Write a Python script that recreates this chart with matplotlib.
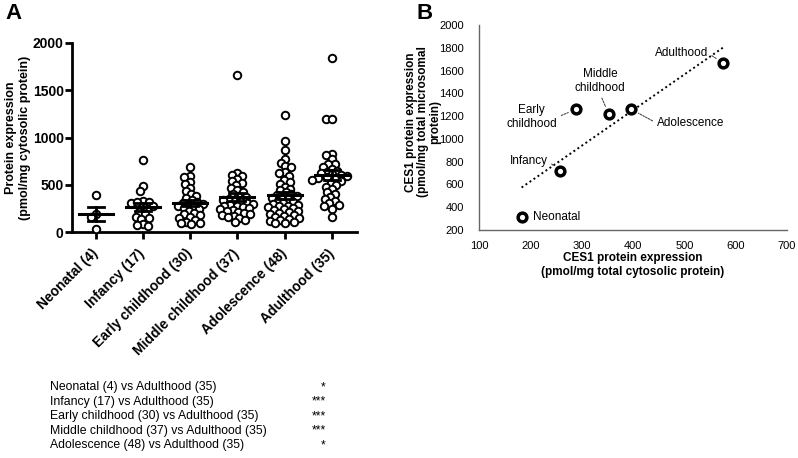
import numpy as np
import matplotlib
matplotlib.use("Agg")
import matplotlib.pyplot as plt

plt.rcParams['font.family'] = ['Liberation Sans', 'DejaVu Sans']

# %% Data - panel A
groups = ["Neonatal (4)", "Infancy (17)", "Early childhood (30)",
          "Middle childhood (37)", "Adolescence (48)", "Adulthood (35)"]

neonatal = [390, 190, 160, 30]
infancy = [766, 489, 436, 330, 320, 310, 320, 280, 260, 210, 190, 160,
           150, 140, 80, 70, 60]
early = [690, 590, 580, 530, 510, 470, 430, 400, 380, 360, 340, 320, 310,
         300, 290, 280, 260, 250, 240, 220, 200, 190, 180, 160, 150, 130,
         110, 100, 90, 80]
middle = [1660, 620, 600, 590, 560, 540, 520, 500, 470, 440, 420, 400, 380,
          370, 350, 340, 330, 320, 310, 300, 290, 280, 270, 260, 250, 240,
          230, 220, 210, 200, 190, 180, 170, 160, 150, 130, 110]
adolescence = [1234, 968, 872, 777, 731, 695, 684, 631, 624, 588,
               550, 530, 510, 480, 460, 440, 420, 400, 390, 380,
               370, 360, 350, 330, 320, 310, 300, 290, 280, 270,
               260, 250, 240, 230, 220, 210, 200, 190, 180, 170,
               160, 150, 140, 130, 120, 110, 100, 90]
adulthood = [1840, 1200, 1200, 830, 810, 770, 720, 720, 690, 670,
             650, 640, 620, 610, 600, 590, 580, 570, 560, 550,
             540, 520, 500, 480, 450, 420, 400, 370, 350, 330,
             310, 290, 280, 240, 160]
values = [neonatal, infancy, early, middle, adolescence, adulthood]

comparisons = ["Neonatal (4) vs Adulthood (35)",
               "Infancy (17) vs Adulthood (35)",
               "Early childhood (30) vs Adulthood (35)",
               "Middle childhood (37) vs Adulthood (35)",
               "Adolescence (48) vs Adulthood (35)"]
stars = ["*", "***", "***", "***", "*"]

# %% Data - panel B
b_names = ["Neonatal", "Infancy", "Early\nchildhood", "Middle\nchildhood",
           "Adolescence", "Adulthood"]
cyto = [183, 257, 289, 353, 396, 576]
micro = [311, 720, 1259, 1215, 1261, 1665]
# label positions (data units) / alignment
lab_xy = [(205, 314), (234, 808), (203, 1191), (336, 1507), (446, 1139), (546, 1753)]
lab_ha = ["left", "right", "center", "center", "left", "right"]
lab_rel = [None, (1, 0.5), (1, 0.5), (0.5, 0), (0, 0.5), (1, 0.5)]

# %% Figure
W, H = 798, 458
fig = plt.figure(figsize=(W/100, H/100), dpi=100)

def rect(l, t, r, b):
    return [l/W, (H-b)/H, (r-l)/W, (b-t)/H]

# ---------- Panel A
axA = fig.add_axes(rect(72, 43, 357, 232))
ypx = 189/2000
xpx = 47.2

def swarm(vals, d=5.6):
    placed = []
    offs = np.zeros(len(vals))
    cands = sorted(np.arange(-40, 40.5, 0.5), key=abs)
    for i in np.argsort(vals)[::-1]:
        y = vals[i]*ypx
        for c in cands:
            if all((c-px)**2 + (y-py)**2 >= d*d for px, py in placed):
                break
        placed.append((c, y))
        offs[i] = c/xpx
    return offs

for k, v in enumerate(values):
    v = np.array(v, dtype=float)
    xs = k + 1 + swarm(v)
    axA.plot(xs, v, 'o', ms=5.4, mfc='white', mec='black', mew=1.4, zorder=3,
             clip_on=False)
    m = v.mean()
    sem = v.std(ddof=1)/np.sqrt(len(v))
    axA.plot([k+1-0.36, k+1+0.36], [m, m], color='black', lw=2.2, zorder=4)
    axA.plot([k+1, k+1], [m-sem, m+sem], color='black', lw=2, zorder=4)
    for e in (m-sem, m+sem):
        axA.plot([k+1-0.17, k+1+0.17], [e, e], color='black', lw=2, zorder=4)

axA.set_xlim(0.5, 6.53)
axA.set_ylim(0, 2000)
axA.set_yticks([0, 500, 1000, 1500, 2000])
axA.set_xticks(range(1, 7))
axA.set_xticklabels(groups, rotation=45, ha='right', va='center',
                    rotation_mode='anchor', fontsize=10, fontweight='bold')
for t in axA.get_yticklabels():
    t.set_fontweight('bold')
    t.set_fontsize(10)
for s in ['top', 'right']:
    axA.spines[s].set_visible(False)
for s in ['left', 'bottom']:
    axA.spines[s].set_linewidth(2)
axA.tick_params(axis='both', direction='out', length=5, width=2, pad=1)
axA.tick_params(axis='x', pad=9)
axA.set_ylabel("Protein expression\n(pmol/mg cytosolic protein)",
               fontsize=9, fontweight='bold', labelpad=1)

fig.text(5/W, 1 - 3/H, "A", fontsize=16, fontweight='bold', va='top')

for i, (c, s) in enumerate(zip(comparisons, stars)):
    y = 1 - (387 + i*14.6)/H
    fig.text(50/W, y, c, fontsize=8.8, va='center')
    fig.text(326/W, y, s, fontsize=8.8, va='center', ha='right')

# ---------- Panel B
axB = fig.add_axes(rect(479, 25, 787, 230))
axB.plot(cyto, micro, 'o', ms=6.3, mfc='white', mec='black', mew=2.5, zorder=3)
p = np.polyfit(cyto, micro, 1)
fx = np.array([min(cyto), max(cyto)])
axB.plot(fx, np.polyval(p, fx), color='black', lw=1.4, ls=(0, (1, 1.5)))

for name, x, y, (tx, ty), ha, rel in zip(b_names, cyto, micro, lab_xy, lab_ha, lab_rel):
    if rel is None:
        axB.text(tx, ty, name, ha=ha, va='center', fontsize=8.5,
                 multialignment='center')
    else:
        axB.annotate(name, xy=(x, y), xytext=(tx, ty), ha=ha, va='center',
                     fontsize=8.5, multialignment='center',
                     arrowprops=dict(arrowstyle='-', ls=(0, (2, 1.2)), lw=0.7,
                                     color='#333333', relpos=rel,
                                     shrinkA=1, shrinkB=6))

axB.set_xlim(100, 700)
axB.set_ylim(200, 2000)
axB.set_xticks(range(100, 701, 100))
axB.set_yticks(range(200, 2001, 200))
for s in ['top', 'right']:
    axB.spines[s].set_visible(False)
for s in ['left', 'bottom']:
    axB.spines[s].set_linewidth(1)
    axB.spines[s].set_color('#666666')
axB.tick_params(axis='both', length=0, labelsize=8)
axB.tick_params(axis='y', pad=11)
axB.tick_params(axis='x', pad=8)
axB.set_xlabel("CES1 protein expression\n(pmol/mg total cytosolic protein)",
               fontsize=8.5, fontweight='bold', labelpad=1)
fig.text(423/W, 1 - 122/H,
         "CES1 protein expression\n(pmol/mg total microsomal\nprotein)",
         rotation=90, ha='center', va='center', fontsize=8.5, linespacing=1.05,
         fontweight='bold', multialignment='center')

fig.text(416/W, 1 - 3/H, "B", fontsize=16, fontweight='bold', va='top')

fig.savefig("out.png", dpi=100)
